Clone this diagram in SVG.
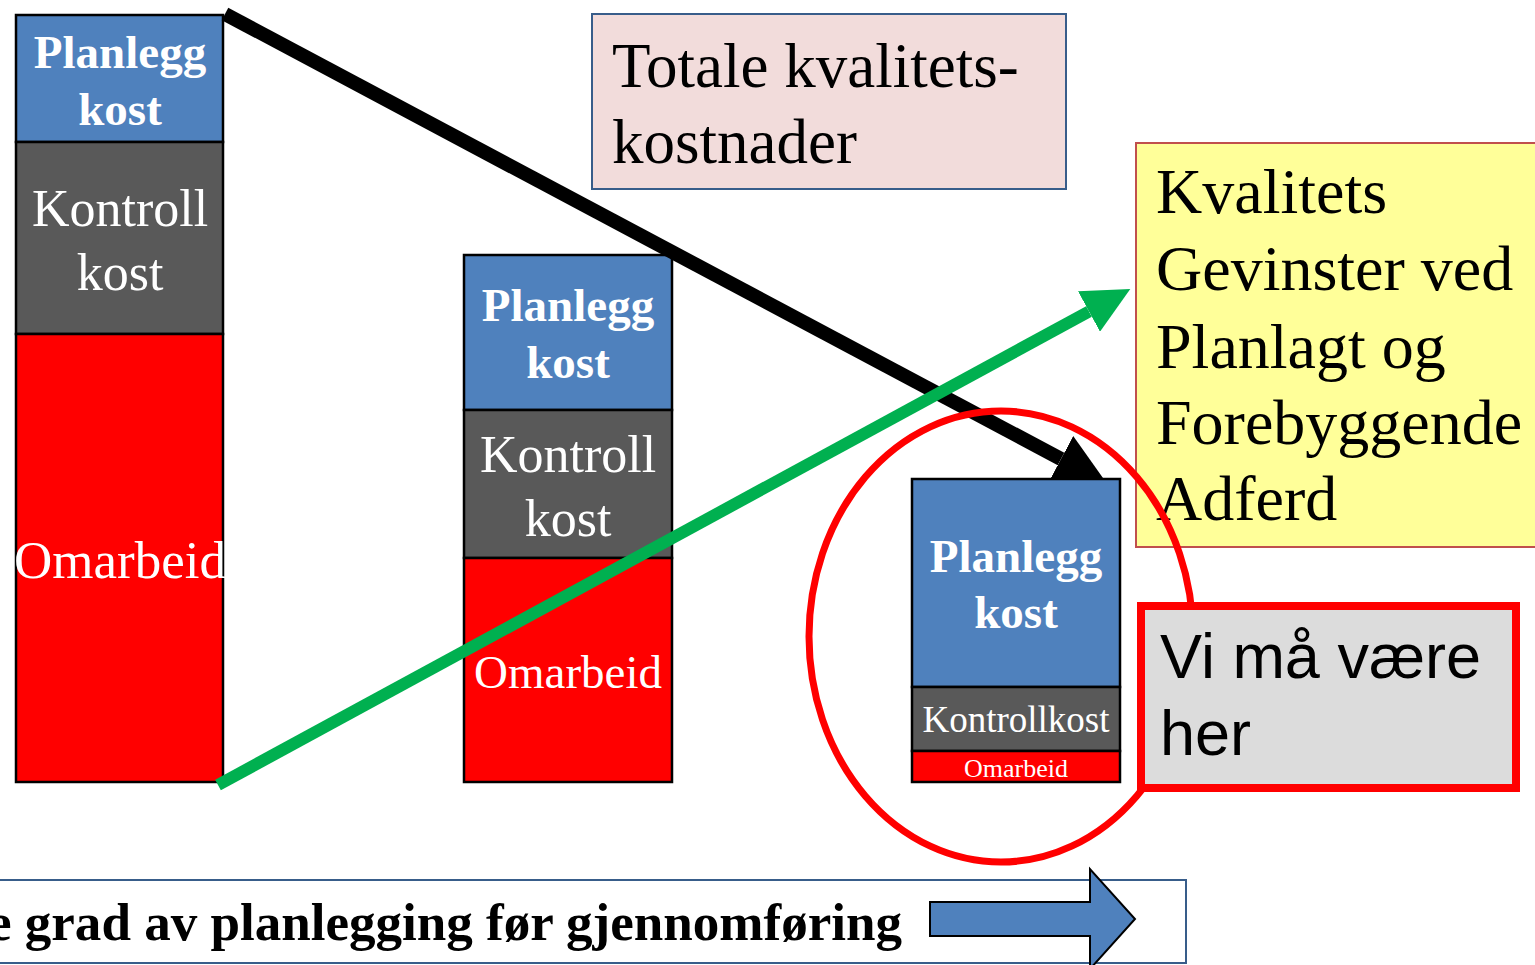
<svg xmlns="http://www.w3.org/2000/svg" width="1535" height="965" viewBox="0 0 1535 965">
<defs>
<style>
.seg{stroke:#000;stroke-width:2.5}
.pl{fill:#4F81BD}.ko{fill:#595959}.om{fill:#FF0000}
.tw{fill:#fff;font-family:"Liberation Serif","Times New Roman",serif;text-anchor:middle}
.b{font-weight:bold}
.tb{fill:#000;font-family:"Liberation Serif","Times New Roman",serif}
.ts{fill:#000;font-family:"Liberation Sans",Arial,sans-serif}
</style>
<marker id="hb" markerUnits="userSpaceOnUse" viewBox="0 0 52 52" markerWidth="52" markerHeight="52" refX="0" refY="26" orient="auto"><path d="M0,0 L52,26 L0,52 Z" fill="#000"/></marker>
<marker id="hg" markerUnits="userSpaceOnUse" viewBox="0 0 47 46" markerWidth="47" markerHeight="46" refX="0" refY="23" orient="auto"><path d="M0,0 L47,23 L0,46 Z" fill="#00B050"/></marker>
</defs>
<rect width="1535" height="965" fill="#fff"/>

<g id="col1">
<rect class="seg pl" x="16" y="15" width="207" height="127"/>
<rect class="seg ko" x="16" y="142" width="207" height="192"/>
<rect class="seg om" x="16" y="334" width="207" height="448"/>
<text class="tw b" x="120" y="68" font-size="47">Planlegg</text>
<text class="tw b" x="120" y="125" font-size="47">kost</text>
<text class="tw" x="120" y="226" font-size="52">Kontroll</text>
<text class="tw" x="120" y="290" font-size="52">kost</text>
<text class="tw" x="120" y="578" font-size="53">Omarbeid</text>
</g>

<g id="col2">
<rect class="seg pl" x="464" y="255" width="208" height="155"/>
<rect class="seg ko" x="464" y="410" width="208" height="148"/>
<rect class="seg om" x="464" y="558" width="208" height="224"/>
<text class="tw b" x="568" y="321" font-size="47">Planlegg</text>
<text class="tw b" x="568" y="378" font-size="47">kost</text>
<text class="tw" x="568" y="472" font-size="52">Kontroll</text>
<text class="tw" x="568" y="536" font-size="52">kost</text>
<text class="tw" x="568" y="688" font-size="47">Omarbeid</text>
</g>

<g id="totale">
<rect x="592" y="14" width="474" height="175" fill="#F2DCDB" stroke="#385D8A" stroke-width="2"/>
<text class="tb" x="612" y="87" font-size="63">Totale kvalitets-</text>
<text class="tb" x="612" y="163" font-size="63">kostnader</text>
</g>

<g id="gevinster">
<rect x="1136" y="143" width="405" height="404" fill="#FFFF99" stroke="#C0504D" stroke-width="2"/>
<text class="tb" x="1156" y="213" font-size="64">Kvalitets</text>
<text class="tb" x="1156" y="290" font-size="64">Gevinster ved</text>
<text class="tb" x="1156" y="368" font-size="64">Planlagt og</text>
<text class="tb" x="1156" y="444" font-size="64">Forebyggende</text>
<text class="tb" x="1156" y="520" font-size="64">Adferd</text>
</g>

<g id="connectors">
<line x1="225" y1="14" x2="1061" y2="459" stroke="#000" stroke-width="14" marker-end="url(#hb)"/>
<line x1="218" y1="785" x2="1089" y2="311.5" stroke="#00B050" stroke-width="12" marker-end="url(#hg)"/>
</g>

<g id="col3">
<rect class="seg pl" x="912" y="479" width="208" height="208"/>
<rect class="seg ko" x="912" y="687" width="208" height="64"/>
<rect class="seg om" x="912" y="751" width="208" height="31"/>
<text class="tw b" x="1016" y="572" font-size="47">Planlegg</text>
<text class="tw b" x="1016" y="628" font-size="47">kost</text>
<text class="tw" x="1016" y="732" font-size="37">Kontrollkost</text>
<text class="tw" x="1016" y="777" font-size="26">Omarbeid</text>
</g>

<g id="ring">
<ellipse cx="1001" cy="636.5" rx="192" ry="225.5" fill="none" stroke="#FF0000" stroke-width="7"/>
</g>

<g id="her">
<rect x="1141" y="606" width="375" height="182" fill="#DCDCDC" stroke="#FF0000" stroke-width="8"/>
<text class="ts" x="1160" y="678" font-size="63">Vi må være</text>
<text class="ts" x="1160" y="755" font-size="63">her</text>
</g>

<g id="banner">
<rect x="-5" y="880" width="1191" height="83" fill="#fff" stroke="#385D8A" stroke-width="2"/>
<text class="tb b" x="-12" y="940" font-size="52" textLength="914" lengthAdjust="spacingAndGlyphs">e grad av planlegging før gjennomføring</text>
<path d="M930,902 L1090,902 L1090,869 L1135,919 L1090,969 L1090,936 L930,936 Z" fill="#4F81BD" stroke="#000" stroke-width="2"/>
</g>
</svg>
